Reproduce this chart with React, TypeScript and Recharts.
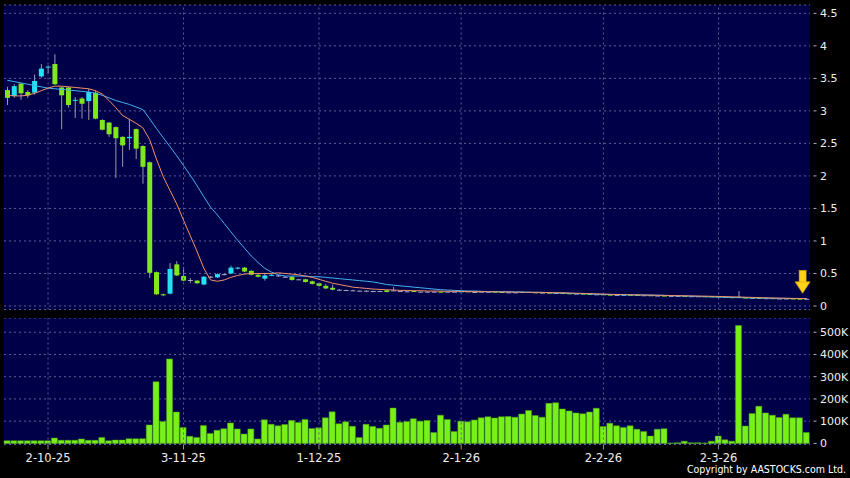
import React from 'react';
import {
  ComposedChart,
  Bar,
  Line,
  XAxis,
  YAxis,
  CartesianGrid,
  ReferenceLine,
  ReferenceDot,
} from 'recharts';

// tick labels (index into the trading-day series)
const tickIdx = [6, 26, 46, 67, 88, 105];
const tickLabels = ['2-10-25', '3-11-25', '1-12-25', '2-1-26', '2-2-26', '2-3-26'];

// daily OHLC
const opens = [
  3.32, 3.23, 3.42, 3.29, 3.28, 3.53, 3.67, 3.72, 3.36, 3.36,
  3.16, 3.19, 3.15, 3.28, 2.86, 2.82, 2.75, 2.6, 2.58, 2.72,
  2.46, 2.21, 0.52, 0.18, 0.19, 0.64, 0.46, 0.4, 0.39, 0.33,
  0.45, 0.44, 0.49, 0.5, 0.58, 0.59, 0.54, 0.48, 0.42, 0.47,
  0.47, 0.45, 0.45, 0.41, 0.41, 0.38, 0.35, 0.31, 0.28, 0.25,
  0.245, 0.24, 0.235, 0.235, 0.23, 0.23, 0.24, 0.24, 0.23, 0.225,
  0.23, 0.22, 0.22, 0.22, 0.22, 0.22, 0.22, 0.22, 0.225, 0.215,
  0.22, 0.22, 0.22, 0.215, 0.21, 0.21, 0.21, 0.215, 0.21, 0.205,
  0.205, 0.2, 0.2, 0.195, 0.19, 0.19, 0.185, 0.18, 0.18, 0.175,
  0.17, 0.17, 0.172, 0.17, 0.165, 0.165, 0.16, 0.16, 0.155, 0.155,
  0.155, 0.15, 0.15, 0.15, 0.148, 0.145, 0.14, 0.135, 0.14, 0.13,
  0.125, 0.125, 0.12, 0.12, 0.115, 0.115, 0.115, 0.112, 0.11,
];
const highs = [
  3.37, 3.41, 3.43, 3.32, 3.56, 3.72, 3.7, 3.87, 3.37, 3.37,
  3.21, 3.21, 3.34, 3.31, 2.87, 2.83, 2.76, 2.61, 2.88, 2.73,
  2.47, 2.22, 0.53, 0.19, 0.66, 0.69, 0.6, 0.43, 0.4, 0.46,
  0.46, 0.5, 0.5, 0.62, 0.6, 0.6, 0.55, 0.49, 0.51, 0.49,
  0.48, 0.46, 0.46, 0.42, 0.42, 0.39, 0.36, 0.34, 0.33, 0.26,
  0.25, 0.25, 0.24, 0.24, 0.235, 0.235, 0.245, 0.29, 0.235, 0.23,
  0.235, 0.225, 0.225, 0.225, 0.225, 0.225, 0.225, 0.23, 0.23, 0.22,
  0.225, 0.225, 0.225, 0.22, 0.215, 0.215, 0.22, 0.22, 0.215, 0.21,
  0.21, 0.205, 0.205, 0.2, 0.195, 0.195, 0.19, 0.185, 0.185, 0.18,
  0.175, 0.178, 0.175, 0.175, 0.17, 0.17, 0.165, 0.165, 0.16, 0.16,
  0.16, 0.155, 0.155, 0.155, 0.15, 0.15, 0.145, 0.14, 0.23, 0.135,
  0.13, 0.13, 0.125, 0.125, 0.12, 0.12, 0.12, 0.115, 0.115,
];
const lows = [
  3.09, 3.2, 3.17, 3.2, 3.25, 3.51, 3.58, 3.4, 2.72, 3.05,
  2.89, 2.88, 2.86, 2.87, 2.7, 2.6, 1.97, 2.14, 2.4, 2.26,
  1.88, 0.43, 0.17, 0.15, 0.18, 0.46, 0.38, 0.35, 0.34, 0.32,
  0.43, 0.43, 0.47, 0.49, 0.56, 0.52, 0.47, 0.44, 0.39, 0.46,
  0.45, 0.44, 0.39, 0.4, 0.36, 0.33, 0.3, 0.26, 0.24, 0.24,
  0.24, 0.23, 0.23, 0.225, 0.225, 0.22, 0.21, 0.235, 0.225, 0.22,
  0.22, 0.215, 0.215, 0.215, 0.21, 0.215, 0.215, 0.215, 0.215, 0.21,
  0.215, 0.215, 0.21, 0.205, 0.205, 0.205, 0.205, 0.205, 0.2, 0.2,
  0.195, 0.195, 0.19, 0.185, 0.185, 0.18, 0.175, 0.175, 0.17, 0.165,
  0.165, 0.165, 0.165, 0.16, 0.16, 0.155, 0.155, 0.152, 0.15, 0.15,
  0.145, 0.145, 0.145, 0.143, 0.14, 0.135, 0.13, 0.125, 0.125, 0.12,
  0.12, 0.115, 0.115, 0.11, 0.11, 0.11, 0.108, 0.105, 0.105,
];
const closes = [
  3.2, 3.38, 3.27, 3.24, 3.46, 3.65, 3.68, 3.41, 3.24, 3.09,
  3.17, 3.11, 3.29, 2.88, 2.71, 2.64, 2.58, 2.47, 2.6, 2.42,
  2.14, 0.51, 0.18, 0.17, 0.57, 0.47, 0.39, 0.4, 0.35, 0.45,
  0.45, 0.49, 0.49, 0.59, 0.59, 0.53, 0.48, 0.45, 0.47, 0.48,
  0.47, 0.45, 0.4, 0.41, 0.37, 0.34, 0.31, 0.27, 0.25, 0.25,
  0.245, 0.24, 0.235, 0.235, 0.23, 0.23, 0.215, 0.24, 0.23, 0.225,
  0.225, 0.22, 0.22, 0.22, 0.215, 0.22, 0.22, 0.225, 0.22, 0.215,
  0.22, 0.22, 0.215, 0.21, 0.21, 0.21, 0.215, 0.21, 0.205, 0.205,
  0.2, 0.2, 0.195, 0.19, 0.19, 0.185, 0.18, 0.18, 0.175, 0.17,
  0.17, 0.172, 0.17, 0.165, 0.165, 0.16, 0.16, 0.158, 0.155, 0.155,
  0.15, 0.15, 0.15, 0.148, 0.145, 0.14, 0.135, 0.13, 0.13, 0.125,
  0.125, 0.12, 0.12, 0.115, 0.115, 0.115, 0.112, 0.11, 0.11,
];

// moving averages as drawn (orange = short, blue = long)
const ma10 = [
  3.24, 3.23, 3.23, 3.24, 3.27, 3.31, 3.35, 3.38, 3.38, 3.37,
  3.36, 3.35, 3.34, 3.31, 3.26, 3.16, 3.05, 2.93, 2.87, 2.81,
  2.74, 2.56, 2.26, 1.99, 1.78, 1.57, 1.32, 1.08, 0.84, 0.58,
  0.4, 0.38, 0.4, 0.44, 0.47, 0.49, 0.5, 0.5, 0.5, 0.5,
  0.51, 0.5, 0.49, 0.48, 0.46, 0.44, 0.41, 0.38, 0.35, 0.33,
  0.31, 0.29, 0.28, 0.27, 0.26, 0.255, 0.25, 0.245, 0.24, 0.24,
  0.235, 0.235, 0.23, 0.23, 0.228, 0.226, 0.225, 0.224, 0.222, 0.22,
  0.22, 0.219, 0.218, 0.216, 0.215, 0.213, 0.212, 0.211, 0.21, 0.208,
  0.206, 0.204, 0.202, 0.199, 0.196, 0.193, 0.19, 0.187, 0.183, 0.18,
  0.177, 0.175, 0.173, 0.171, 0.169, 0.167, 0.165, 0.163, 0.161, 0.159,
  0.157, 0.155, 0.153, 0.151, 0.149, 0.147, 0.144, 0.141, 0.138, 0.135,
  0.132, 0.129, 0.126, 0.123, 0.121, 0.119, 0.117, 0.115, 0.114,
];
const ma20 = [
  3.47, 3.45, 3.43, 3.41, 3.39, 3.37, 3.35, 3.34, 3.33, 3.32,
  3.31, 3.3, 3.29, 3.27, 3.24, 3.2, 3.16, 3.13, 3.1, 3.06,
  3.02, 2.88, 2.73, 2.59, 2.45, 2.31, 2.16, 2.01, 1.85, 1.68,
  1.52, 1.4, 1.27, 1.14, 1.01, 0.89, 0.77, 0.67, 0.58, 0.52,
  0.48, 0.46, 0.46, 0.46, 0.46, 0.45, 0.45, 0.44, 0.43, 0.42,
  0.41, 0.4, 0.39, 0.38, 0.37, 0.35, 0.33, 0.32, 0.31, 0.3,
  0.29, 0.28, 0.27, 0.26, 0.25, 0.245, 0.24, 0.235, 0.23, 0.23,
  0.225, 0.22, 0.22, 0.22, 0.22, 0.215, 0.215, 0.21, 0.21, 0.21,
  0.205, 0.2, 0.2, 0.195, 0.19, 0.19, 0.185, 0.18, 0.178, 0.176,
  0.175, 0.173, 0.172, 0.17, 0.168, 0.167, 0.165, 0.163, 0.16, 0.157,
  0.154, 0.15, 0.147, 0.143, 0.14, 0.137, 0.134, 0.131, 0.128, 0.126,
  0.124, 0.122, 0.12, 0.118, 0.117, 0.116, 0.115, 0.115, 0.115,
];

// volume in thousands of shares
const volumesK = [
  12, 12, 12, 12, 12, 12, 12, 24, 14, 14,
  14, 20, 14, 14, 27, 12, 15, 15, 21, 21,
  21, 83, 277, 98, 380, 141, 72, 32, 27, 81,
  45, 59, 66, 92, 65, 42, 65, 20, 106, 86,
  79, 85, 103, 94, 108, 67, 70, 115, 142, 88,
  97, 77, 26, 86, 76, 68, 83, 159, 95, 98,
  111, 100, 103, 49, 127, 108, 53, 100, 97, 105,
  115, 120, 114, 120, 121, 118, 132, 148, 125, 118,
  180, 183, 155, 146, 137, 133, 141, 158, 76, 91,
  79, 72, 79, 64, 54, 33, 64, 66, 2, 3,
  10, 3, 3, 2, 10, 33, 16, 10, 530, 78,
  134, 167, 137, 127, 116, 131, 115, 115, 49,
];

const priceTicks = [0, 0.5, 1, 1.5, 2, 2.5, 3, 3.5, 4, 4.5];
const volTicks = [0, 100000, 200000, 300000, 400000, 500000];

const NAVY = '#000048';
const GRID = '#5c5c96';
const GREEN = '#7fe81c';
const CYAN = '#22e2f2';
const DOJI = '#a8a8c0';
const WICK = '#9a9ab0';

const rows = opens.map((o, i) => ({
  i,
  o,
  h: highs[i],
  l: lows[i],
  c: closes[i],
  range: [lows[i], highs[i]],
  ma10: ma10[i],
  ma20: ma20[i],
  v: volumesK[i] * 1000,
}));

const Candle = (props: any) => {
  const { x, y, width, height, payload } = props;
  const { o, h, l, c } = payload;
  const span = h - l;
  const py = (v: number) => (span > 0 ? y + ((h - v) / span) * height : y);
  const top = py(Math.max(o, c));
  const bot = py(Math.min(o, c));
  const cx = x + width / 2;
  const col = c > o ? CYAN : c < o ? GREEN : DOJI;
  return (
    <g>
      <line x1={cx} x2={cx} y1={y} y2={y + height} stroke={WICK} strokeWidth={1} />
      <rect x={x} y={top} width={width} height={Math.max(1, bot - top)} fill={col} />
    </g>
  );
};

const RightTick = (props: any) => {
  const { x, y, payload, fmt } = props;
  return (
    <g>
      <line x1={x + 3.5} x2={x + 6.5} y1={y} y2={y} stroke="#b0b0b0" />
      <text x={x + 10} y={y} dy="0.35em" fill="#eeeeee" fontSize={11} fontFamily="DejaVu Sans">
        {fmt(payload.value)}
      </text>
    </g>
  );
};

// last-price marker
const Arrow = (props: any) => {
  const { cx, cy } = props;
  const tx = cx - 4;
  const ty = cy - 5.5;
  return (
    <g>
      <rect x={tx - 3.5} y={ty - 23} width={7} height={12.5} fill="#ffd21a" stroke="#d9a400" strokeWidth={0.6} />
      <polygon
        points={`${tx - 7.5},${ty - 11.5} ${tx + 7.5},${ty - 11.5} ${tx},${ty}`}
        fill="#ffd21a"
        stroke="#d9a400"
        strokeWidth={0.6}
      />
    </g>
  );
};

const fmtPrice = (v: number) => String(v);
const fmtVol = (v: number) => (v === 0 ? '0' : `${v / 1000}K`);

export default function App() {
  return (
    <div
      style={{
        position: 'absolute',
        left: 0,
        top: 0,
        width: 850,
        height: 478,
        background: '#000',
        overflow: 'hidden',
        fontFamily: '"DejaVu Sans", sans-serif',
      }}
    >
      {/* price panel */}
      <div style={{ position: 'absolute', left: 0, top: 0 }}>
        <ComposedChart width={850} height={312} data={rows} margin={{ top: 5, right: 0, bottom: 2.5, left: 4 }}>
          <CartesianGrid fill={NAVY} stroke={GRID} strokeDasharray="2 3" vertical={false} />
          <XAxis dataKey="i" type="category" hide />
          <YAxis
            orientation="right"
            width={40}
            domain={[-0.054, 4.628]}
            ticks={priceTicks}
            interval={0}
            allowDataOverflow
            axisLine={false}
            tickLine={false}
            tickSize={0}
            tickMargin={0}
            tick={(p: any) => <RightTick {...p} fmt={fmtPrice} />}
          />
          {tickIdx.map((t) => (
            <ReferenceLine key={t} x={t} stroke={GRID} strokeDasharray="2 3" />
          ))}
          <Bar dataKey="range" barSize={5} shape={(p: any) => <Candle {...p} />} isAnimationActive={false} />
          <Line type="linear" dataKey="ma20" stroke="#45b2f0" strokeWidth={1} dot={false} isAnimationActive={false} />
          <Line type="linear" dataKey="ma10" stroke="#f0926a" strokeWidth={1} dot={false} isAnimationActive={false} />
          <ReferenceDot
            x={118}
            y={closes[118]}
            ifOverflow="visible"
            shape={(p: any) => <Arrow {...p} />}
          />
        </ComposedChart>
      </div>

      {/* volume panel */}
      <div style={{ position: 'absolute', left: 0, top: 318 }}>
        <ComposedChart width={850} height={160} data={rows} margin={{ top: 0, right: 0, bottom: 0, left: 4 }}>
          <CartesianGrid fill={NAVY} stroke={GRID} strokeDasharray="2 3" vertical={false} />
          <XAxis
            dataKey="i"
            type="category"
            height={33.5}
            ticks={tickIdx}
            interval={0}
            tickFormatter={(v: number) => tickLabels[tickIdx.indexOf(v)] ?? ''}
            axisLine={false}
            tickLine={{ stroke: '#909090' }}
            tickSize={5}
            tickMargin={4}
            tick={{ fill: '#eeeeee', fontSize: 11.5, fontFamily: 'DejaVu Sans' }}
          />
          <YAxis
            orientation="right"
            width={40}
            domain={[-5000, 564000]}
            ticks={volTicks}
            interval={0}
            allowDataOverflow
            axisLine={false}
            tickLine={false}
            tickSize={0}
            tickMargin={0}
            tick={(p: any) => <RightTick {...p} fmt={fmtVol} />}
          />
          {tickIdx.map((t) => (
            <ReferenceLine key={t} x={t} stroke={GRID} strokeDasharray="2 3" />
          ))}
          <Bar dataKey="v" barSize={6} fill="#78f01a" stroke="#4a9e12" strokeWidth={0.5} isAnimationActive={false} />
        </ComposedChart>
      </div>

      <div
        style={{
          position: 'absolute',
          right: 4,
          top: 463,
          color: '#ffffff',
          fontSize: 10.5,
          lineHeight: '12px',
          fontFamily: '"DejaVu Sans Condensed", "DejaVu Sans", sans-serif',
          whiteSpace: 'nowrap',
        }}
      >
        Copyright by AASTOCKS.com Ltd.
      </div>
    </div>
  );
}
